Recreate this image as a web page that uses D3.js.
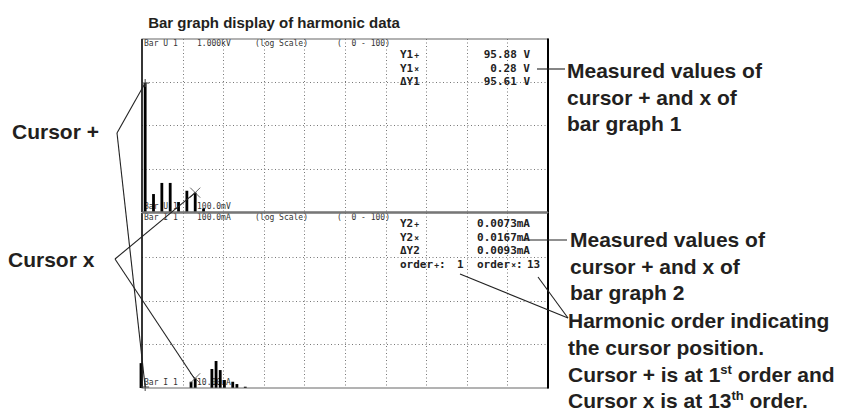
<!DOCTYPE html>
<html>
<head>
<meta charset="utf-8">
<script src="https://cdn.jsdelivr.net/npm/d3@7"></script>
<style>
  html, body { margin: 0; padding: 0; background: #fff; }
  svg { display: block; }
  .lbl { font-family: "Liberation Sans", Arial, sans-serif; font-weight: bold; fill: #231f20; }
  .scr { font-family: "DejaVu Sans Mono", monospace; fill: #333; }
  .rd { font-family: "DejaVu Sans Mono", monospace; font-weight: bold; fill: #222; }
</style>
</head>
<body>
<script>
// ---------- data ----------
// Bar graph 1: voltage harmonics (V), log scale 100.0mV .. 1.000kV
const orders1 = [1, 3, 5, 7, 9, 11, 13, 15];
const values1 = [95.88, 0.26, 0.47, 0.47, 0.17, 0.31, 0.28, 0.12];
const range1 = [0.1, 1000];
// Bar graph 2: current harmonics (mA), log scale 10.00uA .. 100.0mA
const orders2 = [0, 12, 13, 17, 18, 19, 20, 22, 23, 25];
const values2 = [0.037, 0.0139, 0.0167, 0.0272, 0.0414, 0.0257, 0.0152, 0.0139, 0.0123, 0.0107];
const range2 = [0.01, 100];
const orderDomain = [0, 100];
// cursor positions (orders) and readouts
const cursorPlus = 1, cursorX = 13;
const read1 = { plus: "95.88 V", x: "0.28 V", d: "95.61 V" };
const read2 = { plus: "0.0073mA", x: "0.0167mA", d: "0.0093mA" };
const cursorVal1 = [95.88, 0.28];
const cursorVal2 = [0.0073, 0.0167];
const header1 = ["Bar U 1", "1.000kV", "(log Scale)", "(  0 - 100)"];
const header2 = ["Bar I 1", "100.0mA", "(log Scale)", "(  0 - 100)"];
const footer1 = ["Bar U 1", "100.0mV"];
const footer2 = ["Bar I 1", "10.00uA"];

// ---------- layout ----------
const W = 844, H = 412;
const L = 142, R = 548;
const P1 = { top: 39, bottom: 212 };
const P2 = { top: 213, bottom: 388 };

const svg = d3.select("body").append("svg").attr("width", W).attr("height", H);

const x = d3.scaleLinear().domain(orderDomain).range([141, 558]);
const gx = d3.scaleLinear().domain([0, 10]).range([L, R]);
const y1 = d3.scaleLog().domain(range1).range([P1.bottom, P1.top]);
const y2 = d3.scaleLog().domain(range2).range([P2.bottom, P2.top]);

// title
svg.append("text").attr("class", "lbl").attr("x", 274).attr("y", 28)
  .attr("text-anchor", "middle").attr("font-size", 15)
  .text("Bar graph display of harmonic data");

function panel(P, y, orders, values, header, footer, cval) {
  const g = svg.append("g");
  // grid
  const decades = y.ticks().filter(v => Math.abs(Math.log10(v) - Math.round(Math.log10(v))) < 1e-9)
    .filter(v => v > y.domain()[0] && v < y.domain()[1]);
  g.selectAll(".hg").data(decades).enter().append("line")
    .attr("x1", L).attr("x2", R)
    .attr("y1", d => Math.round(y(d)) + 0.5).attr("y2", d => Math.round(y(d)) + 0.5)
    .attr("stroke", "#777").attr("stroke-width", 1).attr("stroke-dasharray", "1,2.5");
  g.selectAll(".vg").data(d3.range(1, 10)).enter().append("line")
    .attr("x1", d => Math.round(gx(d)) + 0.5).attr("x2", d => Math.round(gx(d)) + 0.5)
    .attr("y1", P.top).attr("y2", P.bottom)
    .attr("stroke", "#777").attr("stroke-width", 1).attr("stroke-dasharray", "1,2.5");

  // header text
  const hx = [144, 197, 255, 337];
  header.forEach((t, i) => g.append("text").attr("class", "scr").attr("x", hx[i])
    .attr("y", P.top + 7).attr("font-size", 8).attr("xml:space", "preserve").text(t));
  const fx = [144, 197];
  footer.forEach((t, i) => g.append("text").attr("class", "scr").attr("x", fx[i])
    .attr("y", P.bottom - 3).attr("font-size", 8).text(t));

  // bars
  g.selectAll(".bar").data(orders.map((o, i) => ({ o, v: values[i] }))).enter().append("rect")
    .attr("x", d => x(d.o) - 1.4).attr("width", 2.8)
    .attr("y", d => y(d.v)).attr("height", d => P.bottom - y(d.v))
    .attr("fill", "#000");

  // frame
  g.append("rect").attr("x", L).attr("y", P.top).attr("width", R - L).attr("height", P.bottom - P.top)
    .attr("fill", "none").attr("stroke", "#666").attr("stroke-width", 1);
  g.append("line").attr("x1", L).attr("x2", L).attr("y1", P.top).attr("y2", P.bottom)
    .attr("stroke", "#000").attr("stroke-width", 1.4);
  g.append("line").attr("x1", R).attr("x2", R).attr("y1", P.top - 0.5).attr("y2", P.bottom + 0.5)
    .attr("stroke", "#000").attr("stroke-width", 2);

  // cursors
  const cy = v => Math.min(y(Math.max(v, y.domain()[0])), P.bottom - 1);
  const px = x(cursorPlus), py = cy(cval[0]);
  g.append("path").attr("d", `M${px - 4},${py}H${px + 4}M${px},${py - 4}V${py + 4}`)
    .attr("stroke", "#444").attr("stroke-width", 1);
  const qx = x(cursorX), qy = cy(cval[1]);
  g.append("path").attr("d", `M${qx - 5},${qy - 5}L${qx + 5},${qy + 5}M${qx + 5},${qy - 5}L${qx - 5},${qy + 5}`)
    .attr("stroke", "#555").attr("stroke-width", 0.9);
  return { px, py, qx, qy };
}

const c1 = panel(P1, y1, orders1, values1, header1, footer1, cursorVal1);
const c2 = panel(P2, y2, orders2, values2, header2, footer2, cursorVal2);

// separator between panels
svg.append("line").attr("x1", L).attr("x2", R).attr("y1", 212.5).attr("y2", 212.5)
  .attr("stroke", "#777").attr("stroke-width", 2);

// readouts
const rfs = 11;
function readout(yBase, name, r) {
  const rows = [[name, "+", r.plus], [name, "×", r.x], ["\u0394" + name, "", r.d]];
  rows.forEach((row, i) => {
    const t = svg.append("text").attr("class", "rd").attr("x", 400).attr("y", yBase + i * 13.7)
      .attr("font-size", rfs);
    t.append("tspan").text(row[0]);
    if (row[1]) t.append("tspan").attr("font-size", 8).attr("dx", 1).text(row[1]);
    svg.append("text").attr("class", "rd").attr("x", 530).attr("y", yBase + i * 13.7)
      .attr("font-size", rfs).attr("text-anchor", "end").attr("xml:space", "preserve").text(row[2]);
  });
}
readout(58, "Y1", read1);
readout(227, "Y2", read2);
const ord = svg.append("text").attr("class", "rd").attr("y", 268).attr("font-size", rfs);
ord.append("tspan").attr("x", 400).text("order");
ord.append("tspan").attr("font-size", 8).attr("dx", 1).text("+");
ord.append("tspan").text(":");
ord.append("tspan").attr("x", 457).text(String(cursorPlus));
ord.append("tspan").attr("x", 477).text("order");
ord.append("tspan").attr("font-size", 8).attr("dx", 1).text("×");
ord.append("tspan").text(":");
ord.append("tspan").attr("x", 527).text(String(cursorX));

// callout lines
const lines = [
  [[117, 133], [c1.px, c1.py]],
  [[117, 133], [c2.px, 387]],
  [[115, 259], [c1.qx, c1.qy]],
  [[115, 259], [c2.qx - 1, c2.qy]],
  [[537, 69], [565, 69]],
  [[523, 240], [567, 240]],
  [[568, 318], [460, 274]],
  [[568, 318], [538, 277]]
];
svg.selectAll(".co").data(lines).enter().append("path")
  .attr("d", d => d3.line()(d)).attr("stroke", "#222").attr("stroke-width", 1.1).attr("fill", "none");

// side labels
const fs = 21;
svg.append("text").attr("class", "lbl").attr("x", 12).attr("y", 139).attr("font-size", fs).text("Cursor +");
svg.append("text").attr("class", "lbl").attr("x", 8).attr("y", 267).attr("font-size", fs).text("Cursor x");

function block(x0, y0, lines) {
  lines.forEach((l, i) => svg.append("text").attr("class", "lbl").attr("x", x0).attr("y", y0 + i * 26.5)
    .attr("font-size", fs).text(l));
}
block(567, 78, ["Measured values of", "cursor + and x of", "bar graph 1"]);
block(570, 247, ["Measured values of", "cursor + and x of", "bar graph 2"]);
block(568, 328, ["Harmonic order indicating", "the cursor position."]);
const s1 = svg.append("text").attr("class", "lbl").attr("x", 568).attr("y", 382).attr("font-size", fs);
s1.append("tspan").text("Cursor + is at 1");
s1.append("tspan").attr("font-size", 13).attr("dy", -8).text("st");
s1.append("tspan").attr("dy", 8).text(" order and");
const s2 = svg.append("text").attr("class", "lbl").attr("x", 568).attr("y", 408).attr("font-size", fs);
s2.append("tspan").text("Cursor x is at 13");
s2.append("tspan").attr("font-size", 13).attr("dy", -8).text("th");
s2.append("tspan").attr("dy", 8).text(" order.");
</script>
</body>
</html>
